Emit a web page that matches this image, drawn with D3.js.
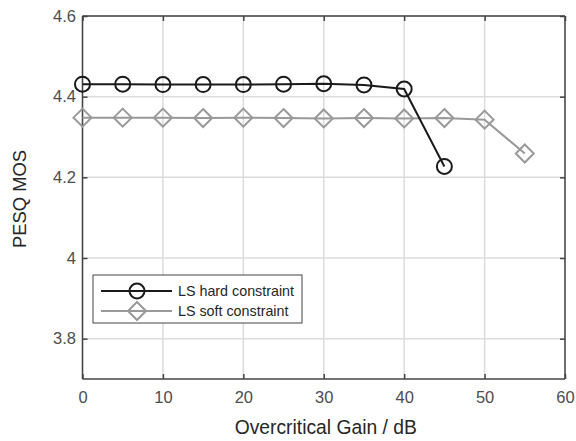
<!DOCTYPE html>
<html><head><meta charset="utf-8">
<script src="https://cdn.jsdelivr.net/npm/d3@7"></script>
<style>body{margin:0;background:#fff}svg{display:block}text{font-family:"Liberation Sans",Arial,Helvetica,sans-serif}</style>
</head><body>
<script>
const gains = [0,5,10,15,20,25,30,35,40,45];
const hardValues = [4.431,4.431,4.430,4.430,4.430,4.431,4.432,4.429,4.419,4.227];
const softGains = [0,5,10,15,20,25,30,35,40,45,50,55];
const softValues = [4.348,4.348,4.348,4.347,4.348,4.347,4.346,4.347,4.346,4.347,4.343,4.259];
const xTicks = [0,10,20,30,40,50,60];
const yTicks = [3.8,4.0,4.2,4.4,4.6];
const seriesNames = ["LS hard constraint","LS soft constraint"];

const W=576,H=441;
const m={l:82.5,r:565,t:16,b:379};
const svg=d3.select("body").append("svg").attr("width",W).attr("height",H);
const x=d3.scaleLinear().domain([0,60]).range([m.l,m.r]);
const y=d3.scaleLinear().domain([3.7,4.6]).range([m.b,m.t]);
const gridC="#dcdcdc", axC="#444";

// grid
svg.append("g").selectAll("line").data(xTicks).join("line")
 .attr("x1",d=>x(d)).attr("x2",d=>x(d)).attr("y1",m.t).attr("y2",m.b)
 .attr("stroke",gridC).attr("stroke-width",1.5);
svg.append("g").selectAll("line").data(yTicks).join("line")
 .attr("y1",d=>y(d)).attr("y2",d=>y(d)).attr("x1",m.l).attr("x2",m.r)
 .attr("stroke",gridC).attr("stroke-width",1.5);

// axes
const fmt=d=>d3.format("")(+d.toFixed(1));
const xa=svg.append("g").attr("transform",`translate(0,${m.b})`).call(d3.axisBottom(x).tickValues(xTicks).tickSize(-5).tickPadding(12.5).tickFormat(fmt));
const xt=svg.append("g").attr("transform",`translate(0,${m.t})`).call(d3.axisTop(x).tickValues(xTicks).tickSize(-5).tickFormat(""));
const ya=svg.append("g").attr("transform",`translate(${m.l},0)`).call(d3.axisLeft(y).tickValues(yTicks).tickSize(-5).tickPadding(6.5).tickFormat(fmt));
const yr=svg.append("g").attr("transform",`translate(${m.r},0)`).call(d3.axisRight(y).tickValues(yTicks).tickSize(-5).tickFormat(""));
[xa,xt,ya,yr].forEach(g=>{
  g.select(".domain").attr("stroke",axC).attr("stroke-width",1.5);
  g.selectAll(".tick line").attr("stroke",axC).attr("stroke-width",1.5);
  g.selectAll("text").attr("fill","#4d4d4d").style("font-size","16.5px").style("font-family",'"Liberation Sans",Arial,sans-serif');
});
xa.selectAll(".domain").attr("d",`M${m.l},0H${m.r}`);
xt.selectAll(".domain").attr("d",`M${m.l},0H${m.r}`);
ya.selectAll(".domain").attr("d",`M0,${m.t}V${m.b}`);
yr.selectAll(".domain").attr("d",`M0,${m.t}V${m.b}`);

// labels
svg.append("text").attr("x",(m.l+m.r)/2+2).attr("y",434).attr("text-anchor","middle")
 .attr("fill","#262626").style("font-size","19.3px").text("Overcritical Gain / dB");
svg.append("text").attr("transform",`translate(25.5,199) rotate(-90)`).attr("text-anchor","middle")
 .attr("fill","#262626").style("font-size","18.4px").text("PESQ MOS");

const hardC="#1a1a1a", softC="#999";
const line=d3.line().x(d=>x(d[0])).y(d=>y(d[1]));
const soft=softGains.map((g,i)=>[g,softValues[i]]);
const hard=gains.map((g,i)=>[g,hardValues[i]]);
const diamond=(cx,cy,r)=>`M${cx},${cy-r}L${cx+r},${cy}L${cx},${cy+r}L${cx-r},${cy}Z`;

svg.append("path").attr("d",line(soft)).attr("fill","none").attr("stroke",softC).attr("stroke-width",2);
svg.append("g").selectAll("path").data(soft).join("path")
 .attr("d",d=>diamond(x(d[0]),y(d[1]),9)).attr("fill","none").attr("stroke",softC).attr("stroke-width",2);
svg.append("path").attr("d",line(hard)).attr("fill","none").attr("stroke",hardC).attr("stroke-width",2);
svg.append("g").selectAll("circle").data(hard).join("circle")
 .attr("cx",d=>x(d[0])).attr("cy",d=>y(d[1])).attr("r",7.5).attr("fill","none").attr("stroke",hardC).attr("stroke-width",2);

// legend
const lg=svg.append("g");
lg.append("rect").attr("x",93).attr("y",275).attr("width",209).attr("height",48).attr("fill","#fff").attr("stroke","#444").attr("stroke-width",1);
const rows=[{n:seriesNames[0],c:hardC,t:"c",yy:291},{n:seriesNames[1],c:softC,t:"d",yy:311}];
rows.forEach(r=>{
  lg.append("line").attr("x1",101).attr("x2",172).attr("y1",r.yy).attr("y2",r.yy).attr("stroke",r.c).attr("stroke-width",2);
  if(r.t==="c") lg.append("circle").attr("cx",137).attr("cy",r.yy).attr("r",7.5).attr("fill","none").attr("stroke",r.c).attr("stroke-width",2);
  else lg.append("path").attr("d",diamond(137,r.yy,9)).attr("fill","none").attr("stroke",r.c).attr("stroke-width",2);
  lg.append("text").attr("x",178).attr("y",r.yy+5).attr("fill","#262626").style("font-size","14.3px").text(r.n);
});
</script>
</body></html>
